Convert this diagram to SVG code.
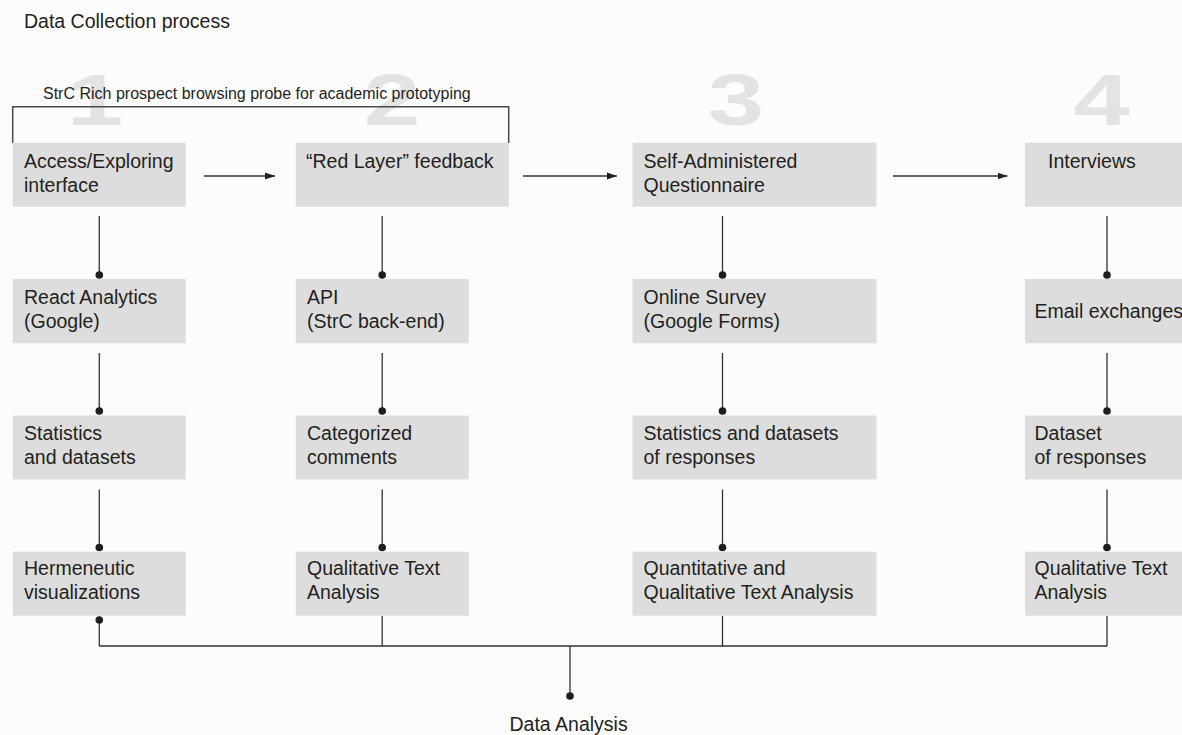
<svg xmlns="http://www.w3.org/2000/svg" width="1182" height="735" viewBox="0 0 1182 735">
  <defs>
    <style>
      .bg { fill: #fcfcfc; }
      .box { fill: #dddddd; }
      .t { font-family: "Liberation Sans", Arial, sans-serif; font-size: 19.5px; fill: #231f20; }
      .lbl { font-family: "Liberation Sans", Arial, sans-serif; font-size: 16px; fill: #231f20; }
      .num { font-family: "Liberation Sans", Arial, sans-serif; font-weight: bold; font-size: 72.5px; fill: #e3e3e3; text-anchor: middle; }
      .ln { stroke: #333333; stroke-width: 1.3; fill: none; }
      .bracket { stroke: #4a4a4a; stroke-width: 1.5; fill: none; }
      .dot { fill: #1e1e1e; }
    </style>
    <marker id="arrow" markerUnits="userSpaceOnUse" markerWidth="10" markerHeight="8" refX="10" refY="4" orient="auto">
      <path d="M0,0.5 L10,4 L0,7.5 z" fill="#231f20"/>
    </marker>
  </defs>

  <rect class="bg" x="0" y="0" width="1182" height="735"/>

  <!-- title -->
  <text class="t" x="24" y="28">Data Collection process</text>

  <!-- phase numbers -->
  <g id="phase-numbers">
    <text class="num" transform="translate(95,124.5) scale(1.4,1)">1</text>
    <text class="num" transform="translate(392,124.5) scale(1.4,1)">2</text>
    <text class="num" transform="translate(736,124.5) scale(1.4,1)">3</text>
    <text class="num" transform="translate(1101.5,124.5) scale(1.4,1)">4</text>
  </g>

  <!-- bracket grouping phases 1 and 2 -->
  <g id="probe-bracket">
    <path class="bracket" d="M12.7,143 V106.7 H508.7 V143"/>
    <text class="lbl" x="43" y="99">StrC Rich prospect browsing probe for academic prototyping</text>
  </g>

  <!-- connectors -->
  <g id="connectors">
    <!-- phase arrows -->
    <line class="ln" x1="204" y1="176" x2="275" y2="176" marker-end="url(#arrow)"/>
    <line class="ln" x1="523" y1="176" x2="617" y2="176" marker-end="url(#arrow)"/>
    <line class="ln" x1="893" y1="176" x2="1007.5" y2="176" marker-end="url(#arrow)"/>

    <!-- column 1 -->
    <path class="ln" d="M99.3,216 V275 M99.3,353 V411 M99.3,489.5 V547.5 M99.3,620 V646"/>
    <!-- column 2 -->
    <path class="ln" d="M382.2,216 V275 M382.2,353 V411 M382.2,489.5 V547.5 M382.2,616 V646"/>
    <!-- column 3 -->
    <path class="ln" d="M722.5,216 V275 M722.5,353 V411 M722.5,489.5 V547.5 M722.5,616 V646"/>
    <!-- column 4 -->
    <path class="ln" d="M1107,216 V275 M1107,353 V411 M1107,489.5 V547.5 M1107,616 V646"/>

    <!-- merge into analysis -->
    <path class="ln" d="M99.3,646 H1107 M570,646 V696"/>

    <!-- end dots -->
    <circle class="dot" cx="99.3" cy="275" r="3.8"/>
    <circle class="dot" cx="99.3" cy="411" r="3.8"/>
    <circle class="dot" cx="99.3" cy="547.5" r="3.8"/>
    <circle class="dot" cx="99.3" cy="620" r="3.8"/>
    <circle class="dot" cx="382.2" cy="275" r="3.8"/>
    <circle class="dot" cx="382.2" cy="411" r="3.8"/>
    <circle class="dot" cx="382.2" cy="547.5" r="3.8"/>
    <circle class="dot" cx="722.5" cy="275" r="3.8"/>
    <circle class="dot" cx="722.5" cy="411" r="3.8"/>
    <circle class="dot" cx="722.5" cy="547.5" r="3.8"/>
    <circle class="dot" cx="1107" cy="275" r="3.8"/>
    <circle class="dot" cx="1107" cy="411" r="3.8"/>
    <circle class="dot" cx="1107" cy="547.5" r="3.8"/>
    <circle class="dot" cx="570" cy="696" r="3.8"/>
  </g>

  <!-- phase 1 -->
  <g id="access-exploring">
    <rect class="box" x="12.7" y="142.7" width="173" height="64"/>
    <text class="t" x="24" y="167.5">Access/Exploring</text>
    <text class="t" x="24" y="191.5">interface</text>
  </g>
  <g id="react-analytics">
    <rect class="box" x="12.7" y="279" width="173" height="64.3"/>
    <text class="t" x="24" y="303.5">React Analytics</text>
    <text class="t" x="24" y="327.5">(Google)</text>
  </g>
  <g id="statistics-datasets">
    <rect class="box" x="12.7" y="415.5" width="173" height="64"/>
    <text class="t" x="24" y="440">Statistics</text>
    <text class="t" x="24" y="464">and datasets</text>
  </g>
  <g id="hermeneutic-visualizations">
    <rect class="box" x="12.7" y="551.7" width="173" height="64"/>
    <text class="t" x="24" y="575">Hermeneutic</text>
    <text class="t" x="24" y="599">visualizations</text>
  </g>

  <!-- phase 2 -->
  <g id="red-layer-feedback">
    <rect class="box" x="295.7" y="142.7" width="213" height="64"/>
    <text class="t" x="306" y="167.5">“Red Layer” feedback</text>
  </g>
  <g id="api">
    <rect class="box" x="295.7" y="279" width="173" height="64.3"/>
    <text class="t" x="307" y="303.5">API</text>
    <text class="t" x="307" y="327.5">(StrC back-end)</text>
  </g>
  <g id="categorized-comments">
    <rect class="box" x="295.7" y="415.5" width="173" height="64"/>
    <text class="t" x="307" y="440">Categorized</text>
    <text class="t" x="307" y="464">comments</text>
  </g>
  <g id="qualitative-text-analysis-2">
    <rect class="box" x="295.7" y="551.7" width="173" height="64"/>
    <text class="t" x="307" y="575">Qualitative Text</text>
    <text class="t" x="307" y="599">Analysis</text>
  </g>

  <!-- phase 3 -->
  <g id="questionnaire">
    <rect class="box" x="632.5" y="142.7" width="244" height="64"/>
    <text class="t" x="643.5" y="167.5">Self-Administered</text>
    <text class="t" x="643.5" y="191.5">Questionnaire</text>
  </g>
  <g id="online-survey">
    <rect class="box" x="632.5" y="279" width="244" height="64.3"/>
    <text class="t" x="643.5" y="303.5">Online Survey</text>
    <text class="t" x="643.5" y="327.5">(Google Forms)</text>
  </g>
  <g id="survey-statistics">
    <rect class="box" x="632.5" y="415.5" width="244" height="64"/>
    <text class="t" x="643.5" y="440">Statistics and datasets</text>
    <text class="t" x="643.5" y="464">of responses</text>
  </g>
  <g id="quant-qual-analysis">
    <rect class="box" x="632.5" y="551.7" width="244" height="64"/>
    <text class="t" x="643.5" y="575">Quantitative and</text>
    <text class="t" x="643.5" y="599">Qualitative Text Analysis</text>
  </g>

  <!-- phase 4 -->
  <g id="interviews">
    <rect class="box" x="1025" y="142.7" width="174" height="64"/>
    <text class="t" x="1048" y="167.5">Interviews</text>
  </g>
  <g id="email-exchanges">
    <rect class="box" x="1025" y="279" width="174" height="64.3"/>
    <text class="t" x="1034.5" y="317.5">Email exchanges</text>
  </g>
  <g id="dataset-responses">
    <rect class="box" x="1025" y="415.5" width="174" height="64"/>
    <text class="t" x="1034.5" y="440">Dataset</text>
    <text class="t" x="1034.5" y="464">of responses</text>
  </g>
  <g id="qualitative-text-analysis-4">
    <rect class="box" x="1025" y="551.7" width="174" height="64"/>
    <text class="t" x="1034.5" y="575">Qualitative Text</text>
    <text class="t" x="1034.5" y="599">Analysis</text>
  </g>

  <!-- final step -->
  <g id="data-analysis">
    <text class="t" x="509.5" y="730.5">Data Analysis</text>
  </g>
</svg>
